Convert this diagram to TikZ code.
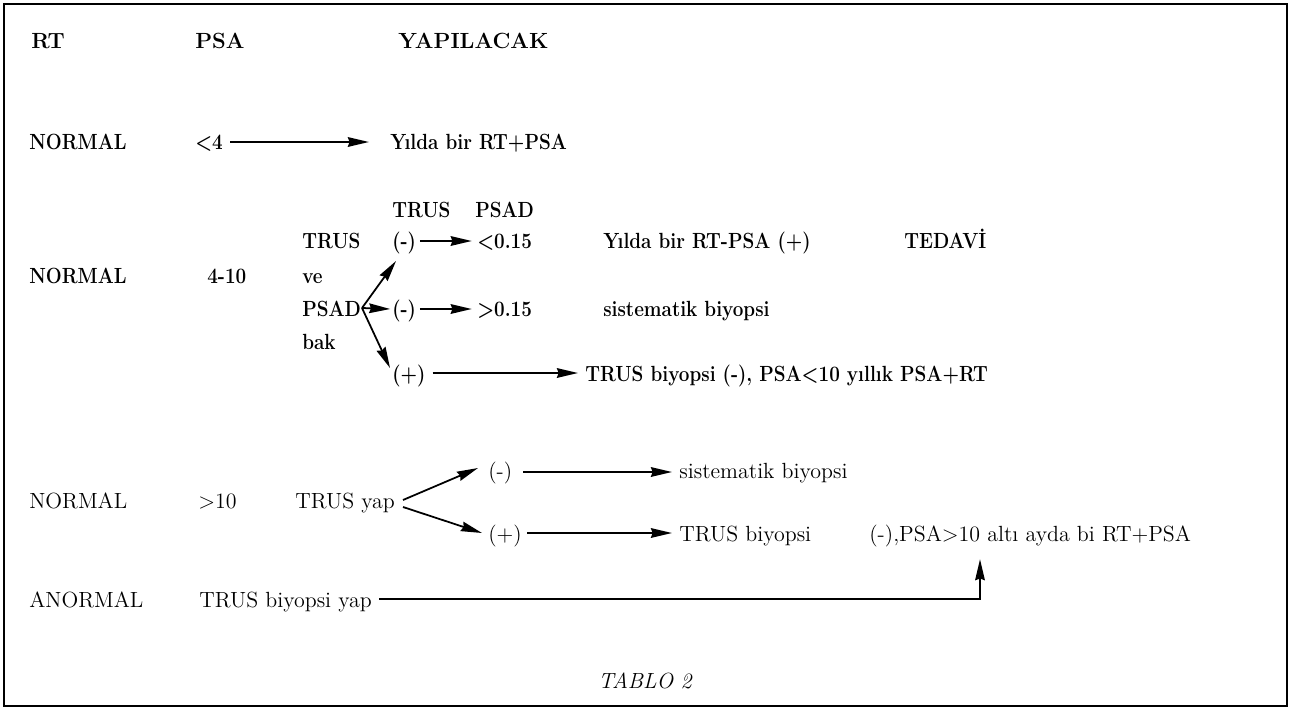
\documentclass[tikz,border=0pt]{standalone}
\usetikzlibrary{arrows.meta}

\tikzset{
    txt/.style={anchor=base west, inner sep=0pt, font=\fontsize{12.5}{14}\selectfont},
    btxt/.style={txt, font=\fontsize{12.5}{14}\selectfont\bfseries, xscale=0.86},
    htxt/.style={txt, font=\fontsize{12.5}{14}\selectfont\bfseries},
    arr/.style={-{Stealth[length=12pt, width=5.5pt, inset=1pt]}, line width=1pt},
}

\begin{document}
\begin{tikzpicture}[x=0.02cm, y=-0.02cm]
    \useasboundingbox (0,0) rectangle (1291,710);
    % cerceve
    \draw[line width=0.8pt] (4,4) rectangle (1287,706);

    % baslik
    \node[htxt] (hRT) at (31,48) {RT};
    \node[htxt] (hPSA) at (195,48) {PSA};
    \node[htxt] (hYap) at (398,48) {YAPILACAK};

    % NORMAL, <4
    \node[btxt] (n1) at (29,149) {NORMAL};
    \node[btxt] (p1) at (195,149) {<4};
    \node[btxt] (r1) at (390,149) {Yılda bir RT+PSA};
    \draw[arr] ([xshift=4pt]p1.east |- 0,142) -- ([xshift=-12pt]r1.west |- 0,142);

    % NORMAL, 4-10
    \node[btxt] (hTrus) at (392,217) {TRUS};
    \node[btxt] (hPsad) at (475,217) {PSAD};
    \node[btxt] (t2) at (302,248) {TRUS};
    \node[btxt] (m2a) at (392,248) {(-)};
    \node[btxt] (d2a) at (477,248) {<0.15};
    \node[btxt] (r2a) at (603,248) {Yılda bir RT-PSA (+)};
    \node[btxt] (tedavi) at (904,248) {TEDAVİ};
    \node[btxt] (n2) at (29,283) {NORMAL};
    \node[btxt] (p2) at (207,283) {4-10};
    \node[btxt] (ve) at (302,283) {ve};
    \node[btxt] (psad) at (302,316) {PSAD};
    \node[btxt] (m2b) at (392,316) {(-)};
    \node[btxt] (d2b) at (477,316) {>0.15};
    \node[btxt] (r2b) at (603,316) {sistematik biyopsi};
    \node[btxt] (bak) at (302,349) {bak};
    \node[btxt] (m2c) at (392,381) {(+)};
    \node[btxt] (r2c) at (585,381) {TRUS biyopsi (-), PSA<10 yıllık PSA+RT};

    % PSAD dallari
    \coordinate (o2) at (362,308);
    \draw[arr] (o2) -- (396,261);
    \draw[arr] (o2) -- (390,368);
    \draw[arr] (o2) -- ([xshift=-1pt]m2b.west |- 0,309);
    \draw[arr] ([xshift=2pt]m2a.east |- 0,241) -- ([xshift=-3pt]d2a.west |- 0,241);
    \draw[arr] ([xshift=2pt]m2b.east |- 0,309) -- ([xshift=-3pt]d2b.west |- 0,309);
    \draw[arr] ([xshift=4pt]m2c.east |- 0,373) -- ([xshift=-4pt]r2c.west |- 0,373);

    % NORMAL, >10
    \node[txt] (n3) at (29,508) {NORMAL};
    \node[txt] (p3) at (198,508) {>10};
    \node[txt] (ty) at (295,508) {TRUS yap};
    \node[txt] (m3a) at (488,478) {(-)};
    \node[txt] (r3a) at (679,478) {sistematik biyopsi};
    \node[txt] (m3b) at (488,541) {(+)};
    \node[txt] (r3b) at (679,541) {TRUS biyopsi};
    \node[txt] (r3c) at (869,541) {(-),PSA>10 altı ayda bi RT+PSA};
    \draw[arr] (403,500) -- (478,468);
    \draw[arr] (403,507) -- (482,533);
    \draw[arr] ([xshift=6pt]m3a.east |- 0,472) -- ([xshift=-4pt]r3a.west |- 0,472);
    \draw[arr] ([xshift=3pt]m3b.east |- 0,533) -- ([xshift=-4pt]r3b.west |- 0,533);

    % ANORMAL
    \node[txt] (n4) at (29,607) {ANORMAL};
    \node[txt] (tb) at (199,607) {TRUS biyopsi yap};
    \draw[arr] ([xshift=4pt]tb.east |- 0,599) -| ([yshift=-7pt]r3c.south west -| 980,0);

    % alt yazi
    \node[txt, anchor=base, font=\fontsize{12.5}{14}\selectfont\itshape] (cap) at (645,688) {TABLO 2};
\end{tikzpicture}
\end{document}
